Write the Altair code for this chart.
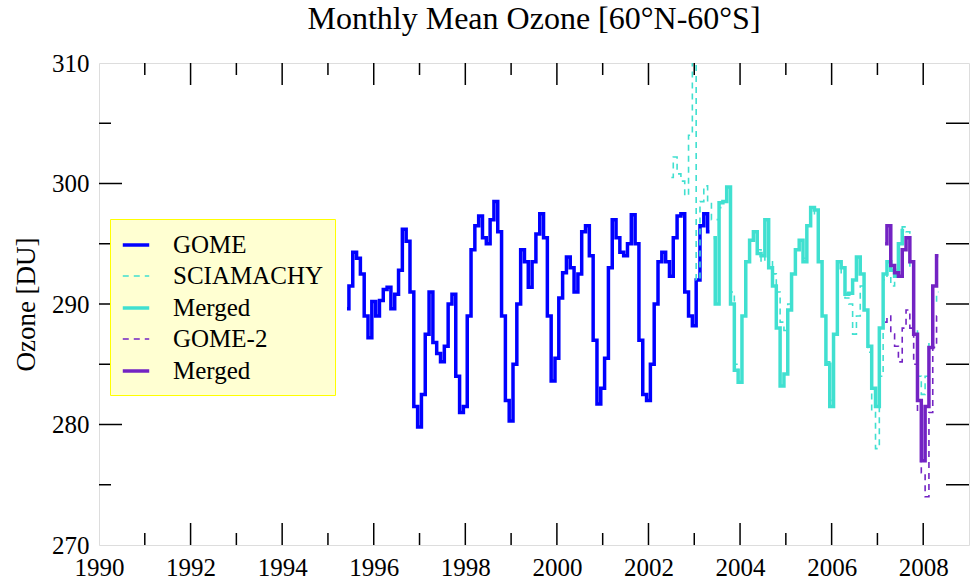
import altair as alt
import pandas as pd

# ---------------- data (monthly means, month index m -> year 1990 + m/12) ----------------
gome_start = 65
gome_vals = [289.6, 291.5, 294.3, 293.8, 292.5, 289.0, 287.2, 290.2, 289.0, 290.3,
             291.2, 291.4, 289.6, 290.8, 292.8, 296.2, 295.2, 291.0, 281.5, 279.8,
             282.5, 287.5, 291.0, 286.8, 285.9, 285.2, 286.5, 290.0, 290.8, 284.0,
             281.0, 281.5, 289.0, 294.5, 296.5, 297.3, 295.5, 295.0, 297.0, 298.5,
             296.0, 289.0, 282.0, 280.3, 285.0, 290.0, 294.5, 293.5, 291.4, 293.5,
             295.8, 297.5, 295.5, 289.0, 283.6, 285.5, 290.5, 292.6, 293.9, 293.0,
             291.0, 292.5, 296.0, 296.5, 294.0, 287.0, 281.7, 283.0, 285.5, 293.0,
             297.0, 295.5, 294.3, 294.0, 295.0, 297.4, 295.0, 287.0, 282.5, 282.0,
             285.0, 290.0, 293.5, 294.3, 293.5, 292.3, 295.5, 297.3, 297.5, 291.0,
             289.0, 288.2, 292.0, 296.5, 297.5, 296.0]

scia_start = 150
scia_vals = [300.5, 302.2, 300.8, 300.2, 299.0, 304.0, 316.0, 292.0, 298.5, 299.8,
             298.5, 297.0, 297.0, 298.0, 298.5, 299.5, 291.0, 285.0, 284.0, 289.0,
             293.5, 295.3, 295.5, 294.5, 293.5, 296.0, 293.5, 292.5, 291.0, 288.5,
             287.8, 290.0, 292.5, 294.5, 295.0, 293.8, 296.5, 298.0, 297.5, 293.5,
             289.0, 285.2, 282.0, 287.5, 293.5, 292.5, 290.5, 290.0, 287.5, 289.0,
             291.5, 289.5, 286.0, 281.0, 278.0, 284.0, 292.0, 293.0, 291.5, 292.5,
             295.0, 296.4, 296.0, 293.0, 288.0, 284.0, 282.5, 284.0, 287.0, 290.0,
             291.0]

merged1_start = 161
merged1_vals = [295.5, 290.0, 298.4, 298.5, 299.7, 290.0, 284.5, 283.5, 289.0, 293.5,
                295.3, 296.0, 294.2, 294.0, 297.0, 293.0, 291.5, 288.0, 283.2, 284.2,
                289.5, 292.5, 294.5, 295.3, 293.5, 296.5, 298.0, 297.8, 293.5, 289.0,
                285.0, 281.5, 287.5, 293.5, 293.0, 290.8, 290.9, 292.0, 293.9, 292.5,
                289.5, 286.5, 283.0, 281.5, 288.0, 292.5, 293.5, 292.8, 292.3, 295.0,
                296.1]

gome2_start = 206
gome2_vals = [288.5, 289.0, 287.5, 286.5, 285.2, 288.0, 289.5, 288.0, 285.0, 281.0,
              276.0, 274.0, 281.0, 286.4, 289.0]

merged2_start = 206
merged2_vals = [295.0, 296.5, 293.2, 292.6, 292.3, 294.5, 295.5, 293.5, 287.5, 282.0,
                277.0, 281.5, 286.4, 291.5, 294.0]

series_keys = ["GOME", "SCIAMACHY", "Merged (SCIA)", "GOME-2", "Merged (GOME-2)"]
series_colors = ["#0000FF", "#40E0D0", "#40E0D0", "#7323C3", "#7323C3"]
series_dash = [[1, 0], [6, 5], [1, 0], [6, 5], [1, 0]]
series_width = [3.5, 1.6, 3.5, 1.6, 3.5]

x_major = [1992, 1994, 1996, 1998, 2000, 2002, 2004, 2006, 2008]
x_minor = [1991, 1993, 1995, 1997, 1999, 2001, 2003, 2005, 2007]
y_major = [280, 290, 300]
y_minor = [275, 285, 295, 305]
x_labels = [1990, 1992, 1994, 1996, 1998, 2000, 2002, 2004, 2006, 2008]
y_labels = [270, 280, 290, 300, 310]

W, H = 870, 482
SERIF = "Liberation Serif"


def frame(name, start, vals):
    return pd.DataFrame({
        "year": [1990 + (start + i) / 12.0 for i in range(len(vals))],
        "ozone": vals,
        "series": name,
    })


df = pd.concat([
    frame("GOME", gome_start, gome_vals),
    frame("SCIAMACHY", scia_start, scia_vals),
    frame("Merged (SCIA)", merged1_start, merged1_vals),
    frame("GOME-2", gome2_start, gome2_vals),
    frame("Merged (GOME-2)", merged2_start, merged2_vals),
], ignore_index=True)

xscale = alt.Scale(domain=[1990, 2009], nice=False, zero=False)
yscale = alt.Scale(domain=[270, 310], nice=False, zero=False)

XENC = alt.X("year:Q", scale=xscale, title=None,
             axis=alt.Axis(values=x_labels, format="d", ticks=False, domain=False,
                           grid=False, labelFont=SERIF, labelFontSize=25,
                           labelColor="black", labelPadding=10, labelFlush=False))
YENC = alt.Y("ozone:Q", scale=yscale, title="Ozone [DU]",
             axis=alt.Axis(values=y_labels, ticks=False, domain=False, grid=False,
                           labelFont=SERIF, labelFontSize=25, labelColor="black",
                           labelPadding=10, titleFont=SERIF, titleFontSize=27,
                           titleFontWeight="normal", titleColor="black",
                           titlePadding=11))

color = alt.Color(
    "series:N", title=None,
    scale=alt.Scale(domain=series_keys, range=series_colors),
    legend=alt.Legend(
        orient="none", legendX=11, legendY=156,
        fillColor="#FFFFD2", strokeColor="#FFFF00",
        padding=11, rowPadding=3.5, symbolType="stroke", symbolSize=700,
        labelFont=SERIF, labelFontSize=25, labelColor="black", labelOffset=22,
        labelLimit=400,
        labelExpr="indexof(datum.label, 'Merged') == 0 ? 'Merged' : datum.label",
    ),
)
dash = alt.StrokeDash("series:N", title=None,
                      scale=alt.Scale(type="ordinal", domain=series_keys, range=series_dash))
swidth = alt.StrokeWidth("series:N", title=None,
                         scale=alt.Scale(type="ordinal", domain=series_keys, range=series_width))

layers = []
for key in series_keys:
    layers.append(
        alt.Chart(df).transform_filter(alt.datum.series == key)
        .mark_line(interpolate="step", clip=True)
        .encode(x=XENC, y=YENC, color=color, strokeDash=dash, strokeWidth=swidth,
                order=alt.Order("year:Q"))
    )

# inward tick marks on all four sides
xmaj = pd.DataFrame({"year": x_major})
xmin = pd.DataFrame({"year": x_minor})
ymaj = pd.DataFrame({"ozone": y_major})
ymin = pd.DataFrame({"ozone": y_minor})
tick_style = dict(color="black", strokeWidth=1.5)

ticks = [
    alt.Chart(xmaj).mark_rule(**tick_style).encode(x=XENC, y=alt.value(H), y2=alt.value(H - 22)),
    alt.Chart(xmin).mark_rule(**tick_style).encode(x=XENC, y=alt.value(H), y2=alt.value(H - 12)),
    alt.Chart(xmaj).mark_rule(**tick_style).encode(x=XENC, y=alt.value(0), y2=alt.value(22)),
    alt.Chart(xmin).mark_rule(**tick_style).encode(x=XENC, y=alt.value(0), y2=alt.value(12)),
    alt.Chart(ymaj).mark_rule(**tick_style).encode(y=YENC, x=alt.value(0), x2=alt.value(23)),
    alt.Chart(ymin).mark_rule(**tick_style).encode(y=YENC, x=alt.value(0), x2=alt.value(12)),
    alt.Chart(ymaj).mark_rule(**tick_style).encode(y=YENC, x=alt.value(W), x2=alt.value(W - 23)),
    alt.Chart(ymin).mark_rule(**tick_style).encode(y=YENC, x=alt.value(W), x2=alt.value(W - 23)),
]

chart = alt.layer(*layers, *ticks).properties(
    width=W, height=H,
    title=alt.TitleParams("Monthly Mean Ozone [60°N-60°S]", font=SERIF, fontSize=32,
                          fontWeight="normal", color="black", anchor="middle", offset=15),
    autosize=alt.AutoSizeParams(type="none"),
    padding={"left": 99, "top": 63, "right": 5, "bottom": 34},
).configure_view(stroke="black", strokeWidth=1.5).configure_legend(
    strokeWidth=2
).configure(background="white")

chart.save("out.html", embed_options={"renderer": "svg", "actions": False})
